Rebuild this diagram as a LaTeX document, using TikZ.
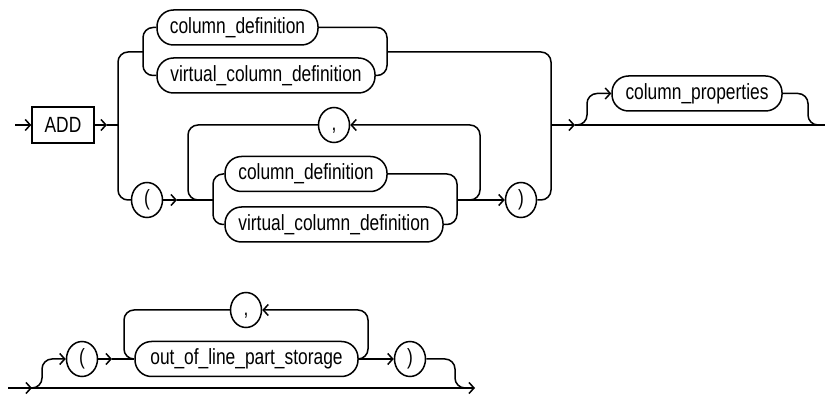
\documentclass[tikz,border=0pt]{standalone}
\usepackage{fontspec}
\setmainfont{Liberation Sans}
\usepackage{graphicx}
\usetikzlibrary{arrows.meta,shapes.geometric}
\newcommand\lbl[1]{\scalebox{0.79}[1]{#1}}
\begin{document}
\begin{tikzpicture}[x=1pt,y=-1pt, line width=1.5pt,
  every node/.style={font=\fontsize{22}{24}\selectfont, inner sep=0pt},
  term/.style={draw, rounded corners=16.5pt, minimum height=35pt},
  kw/.style={draw, minimum height=36pt, minimum width=62pt},
  punct/.style={draw, ellipse, minimum width=31pt, minimum height=35pt},
  arr/.style={-{Straight Barb[length=5pt,width=11pt]}},
  rc/.style={rounded corners=10pt}]
\useasboundingbox[fill=white] (0,0) rectangle (825,395);

% ---- top diagram nodes
\node[kw] (add) at (63,125) {\lbl{ADD}};
\node[term, minimum width=161pt] (cda) at (237.5,27.5) {\lbl{column\_definition}};
\node[term, minimum width=218pt] (vcda) at (266,75.5) {\lbl{virtual\_column\_definition}};
\node[punct] (lpa) at (147,200) {\lbl{(}};
\node[punct] (cma) at (334,125) {\lbl{\vphantom{(},}};
\node[term, minimum width=162pt] (cdb) at (306,174) {\lbl{column\_definition}};
\node[term, minimum width=218pt] (vcdb) at (334,224.5) {\lbl{virtual\_column\_definition}};
\node[punct] (rpa) at (521,200) {\lbl{)}};
\node[term, minimum width=170pt] (cp) at (697,93.5) {\lbl{column\_properties}};

% ---- bottom diagram nodes
\node[punct] (lpb) at (82,359) {\lbl{(}};
\node[punct] (cmb) at (246,310) {\lbl{\vphantom{(},}};
\node[term, minimum width=223pt] (ools) at (246.5,359) {\lbl{out\_of\_line\_part\_storage}};
\node[punct] (rpb) at (410,359) {\lbl{)}};

% ---- top connectors
\coordinate (s1) at (15,125);
\draw[arr] (s1) -- (add.west);
\draw[arr] (add.east) -- (107,125);
\draw (107,125) -- (118,125);
\draw[rc] (143,52) -- (118,52) -- (118,200) -- (lpa.west);
\draw[rc] (cda.west) -| (143,52) |- (vcda.west);
\draw[rc] (cda.east) -| (387,52) |- (vcda.east);
\draw[rc] (387,52) -- (551,52) -- (551,200) -- (rpa.east);
\draw[arr] (551,125) -- (575,125);
\draw (575,125) -- (825,125);
\draw[rc, arr] (575,125) -- (587,125) -- (587,93.5) -- (cp.west);
\draw[rc] (cp.east) -- (808,93.5) -- (808,125) -- (822,125);

\draw[arr] (lpa.east) -- (177,200);
\draw (177,200) -- (213,200);
\draw[rc] (cdb.west) -| (213,200) |- (vcdb.west);
\draw[rc] (cdb.east) -| (457,200) |- (vcdb.east);
\draw[arr] (457,200) -- (rpa.west);
\draw[rc] (cma.west) -- (188,125) -- (188,200) -- (200,200);
\draw[rc, arr] (468,200) -- (480,200) -- (480,125) -- (cma.east);

% ---- bottom connectors
\draw (8,388) -- (462,388);
\draw[arr] (8,388) -- (32,388);
\draw[arr] (462,388) -- (475,388);
\draw[rc, arr] (32,388) -- (42,388) -- (42,359) -- (lpb.west);
\draw[arr] (lpb.east) -- (112,359);
\draw (112,359) -- (ools.west);
\draw[rc] (cmb.west) -- (124,310) -- (124,359) -- (134,359);
\draw[rc, arr] (ools.east) -- (368,359) -- (368,310) -- (cmb.east);
\draw[arr] (ools.east) -- (rpb.west);
\draw[rc] (rpb.east) -- (455,359) -- (455,388) -- (465,388);
\end{tikzpicture}
\end{document}
